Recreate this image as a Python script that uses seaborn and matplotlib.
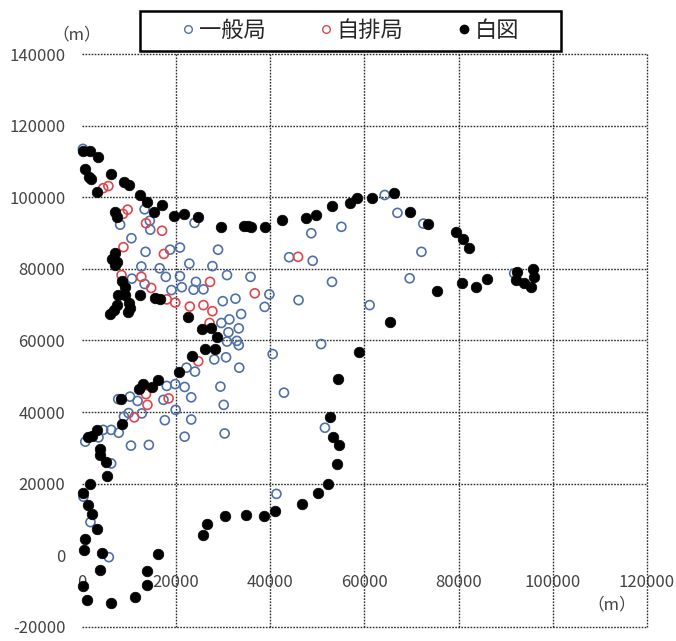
import numpy as np
import pandas as pd
import seaborn as sns
import matplotlib.pyplot as plt
from matplotlib.lines import Line2D
from matplotlib.patches import Rectangle

# 一般局 (blue open circles)
ippan_x = [200, 13300, 8100, 14400, 14500, 10500, 13500, 18700, 20800, 28900, 23900, 12600, 16500, 22800,
           27700, 17800, 20800, 30800, 35800, 10600, 13300, 24200, 21200, 19000, 23700, 25800, 29900, 32600,
           39800, 38800, 44000, 33800, 31300, 29600, 33300, 31100, 32900, 30800, 33300, 28100, 30600, 33400,
           40500, 22200, 24000, 21800, 29400, 23200, 30100, 23200, 21800, 30300, 42900, 19800, 18000, 17300,
           10200, 11800, 7700, 12700, 9900, 8900, 17600, 19900, 4500, 6200, 7800, 3500, 700, 10400, 14200,
           6200, 1800, 5700, 300, 41300, 51600, 50800, 64300, 67000, 72500, 72100, 69600, 61100, 55100,
           48700, 49000, 53100, 46000, 91800]
ippan_y = [113600, 96700, 92400, 93500, 91000, 88600, 84800, 85400, 86000, 85400, 92900, 80700, 80200, 81500,
           80800, 77800, 78000, 78300, 77800, 77300, 75800, 76400, 74900, 74100, 74200, 74300, 71000, 71700,
           72900, 69400, 83300, 67400, 65900, 64900, 63400, 62300, 59900, 59700, 58700, 54700, 55300, 52400,
           56200, 52400, 51300, 47000, 47100, 44100, 42000, 37900, 33100, 34000, 45400, 47800, 47300, 43400,
           44300, 43100, 43600, 39600, 39700, 38700, 37700, 40600, 35000, 35000, 34200, 32900, 31700, 30600, 30800,
           25600, 9200, -600, 16300, 17100, 35600, 59000, 100700, 95700, 92700, 84800, 77400, 69900, 91800,
           90000, 82300, 76400, 71300, 78800]

# 自排局 (red open circles)
jihai_x = [4500, 5600, 9700, 8700, 13600, 17000, 8800, 17400, 8400, 12600, 14700, 18000, 19800, 22900,
           25800, 27700, 27200, 36700, 27100, 24700, 45900, 13600, 13900, 18400, 11100]
jihai_y = [102600, 103200, 96600, 95400, 92800, 90700, 86100, 84200, 78300, 77800, 74700, 71500, 70600, 69500,
           69900, 68200, 76400, 73200, 64900, 54200, 83400, 45000, 42000, 43800, 38500]

# 白図 (black filled)
hakuzu_x = [200, 1700, 3500, 600, 1400, 1900, 6100, 3100, 8900, 10000, 12300, 13800, 16900, 15300, 7000,
            7400, 19500, 21600, 24600, 29600, 34400, 35300, 36000, 38900, 42500, 47500, 49600, 53100, 56900,
            58500, 61500, 66200, 69600, 73500, 79500, 80900, 82100, 92500, 95700, 96000, 92100, 93900, 95300,
            86000, 83600, 80800, 75400, 65500, 58800, 54300, 52600, 53300, 54500, 54100, 52300, 50100, 46800,
            41000, 38600, 34900, 30300, 26500, 25800, 16200, 13900, 13900, 11300, 6100, 1000, 200, 3800, 4300,
            500, 600, 3100, 2200, 1300, 300, 1800, 5300, 5100, 3900, 3800, 1300, 2100, 3100, 8400, 8200, 12200,
            13000, 14800, 16200, 20700, 23300, 26200, 28300, 28700, 25500, 27500, 22600, 6000, 6700, 9800,
            10200, 7400, 9900, 7600, 9200, 12300, 15500, 16600, 8600, 9200, 6300, 7000, 7000, 7400]
hakuzu_y = [113100, 112900, 111200, 107900, 105700, 105100, 106600, 101600, 104300, 103500, 100600, 98800,
            97800, 96000, 96000, 94500, 94700, 95400, 94500, 91700, 91900, 92000, 91700, 91700, 93800, 94200,
            95100, 97700, 98500, 99800, 99800, 101200, 96000, 92600, 90400, 88300, 85800, 79200, 79900, 77800,
            76900, 76000, 75000, 77200, 74900, 76100, 73900, 65200, 56900, 49100, 38700, 33100, 30800, 25500,
            19900, 17400, 14200, 12400, 10900, 11300, 10900, 8700, 5600, 300, -4500, -8400, -11700, -13300,
            -12600, -8700, -4200, 600, 1400, 4400, 7200, 11600, 14000, 17400, 19900, 22100, 26100, 28000, 29600,
            32900, 33200, 35000, 36600, 43600, 46300, 47800, 47000, 49000, 51300, 55800, 57500, 57600, 61100,
            63200, 63600, 66700, 67500, 68500, 68100, 69000, 69900, 70400, 72600, 72600, 72600, 71800, 71500,
            76600, 75000, 82900, 84600, 81100, 82000]

x_ticks = list(range(0, 120001, 20000))
y_ticks = list(range(-20000, 140001, 20000))

df_ippan = pd.DataFrame({"x": ippan_x, "y": ippan_y})
df_jihai = pd.DataFrame({"x": jihai_x, "y": jihai_y})
df_hakuzu = pd.DataFrame({"x": hakuzu_x, "y": hakuzu_y})

sns.set_style("white")
plt.rcParams["font.family"] = ["Noto Sans CJK JP", "DejaVu Sans"]

fig = plt.figure(figsize=(6.76, 6.41), dpi=100)
ax = fig.add_axes([0.1213, 0.0226, 0.8357, 0.8924])

blue = "#4f70a8"
red = "#e0474c"

sns.scatterplot(data=df_ippan, x="x", y="y", ax=ax, marker="o", s=42,
                facecolors="none", edgecolor=blue, linewidth=1.2, zorder=3, clip_on=False)
sns.scatterplot(data=df_jihai, x="x", y="y", ax=ax, marker="o", s=42,
                facecolors="none", edgecolor=red, linewidth=1.2, zorder=4, clip_on=False)
sns.scatterplot(data=df_hakuzu, x="x", y="y", ax=ax, marker="o", s=58,
                color="black", edgecolor="black", linewidth=0.5, zorder=5, clip_on=False)

ax.set_xlim(0, 120000)
ax.set_ylim(-20000, 140000)
ax.set_xticks(x_ticks)
ax.set_yticks(y_ticks)
ax.set_xticklabels([str(v) for v in x_ticks])
ax.set_yticklabels([str(v) for v in y_ticks])
ax.set_xlabel("")
ax.set_ylabel("")

# dotted grid, no line on the axes themselves (x = 0 / y = 0)
grid_kw = dict(color="#2b2b2b", linestyle=(0, (1.2, 1.0)), linewidth=1.0, zorder=1, clip_on=False)
for v in x_ticks:
    if v != 0:
        ax.axvline(v, **grid_kw)
for v in y_ticks:
    if v != 0:
        ax.axhline(v, **grid_kw)

for sp in ax.spines.values():
    sp.set_visible(False)
ax.spines["bottom"].set_position(("data", 0))

ax.tick_params(axis="both", length=0, labelsize=12, labelcolor="#444444")
ax.tick_params(axis="x", pad=14)
ax.tick_params(axis="y", pad=12)

fig.text(0.114, 0.946, "（m）", fontsize=12, color="#444444", ha="center", va="center")
fig.text(0.905, 0.056, "（m）", fontsize=12, color="#444444", ha="center", va="center")

handles = [
    Line2D([], [], marker="o", linestyle="none", markersize=5.5, markerfacecolor="none",
           markeredgecolor=blue, markeredgewidth=1.0, label="一般局"),
    Line2D([], [], marker="o", linestyle="none", markersize=5.5, markerfacecolor="none",
           markeredgecolor=red, markeredgewidth=1.0, label="自排局"),
    Line2D([], [], marker="o", linestyle="none", markersize=6, markerfacecolor="black",
           markeredgecolor="black", label="白図"),
]
fig.legend(handles=handles, loc="center", bbox_to_anchor=(0.518, 0.952), ncol=3,
           frameon=False, fontsize=16, handlelength=0.6, handletextpad=0.2, columnspacing=2.4)
fig.add_artist(Rectangle((140 / 676, 1 - 51 / 641), 421 / 676, 40 / 641,
                         transform=fig.transFigure, fill=False, linewidth=1.8, edgecolor="black"))

fig.savefig("out.png", dpi=100)
